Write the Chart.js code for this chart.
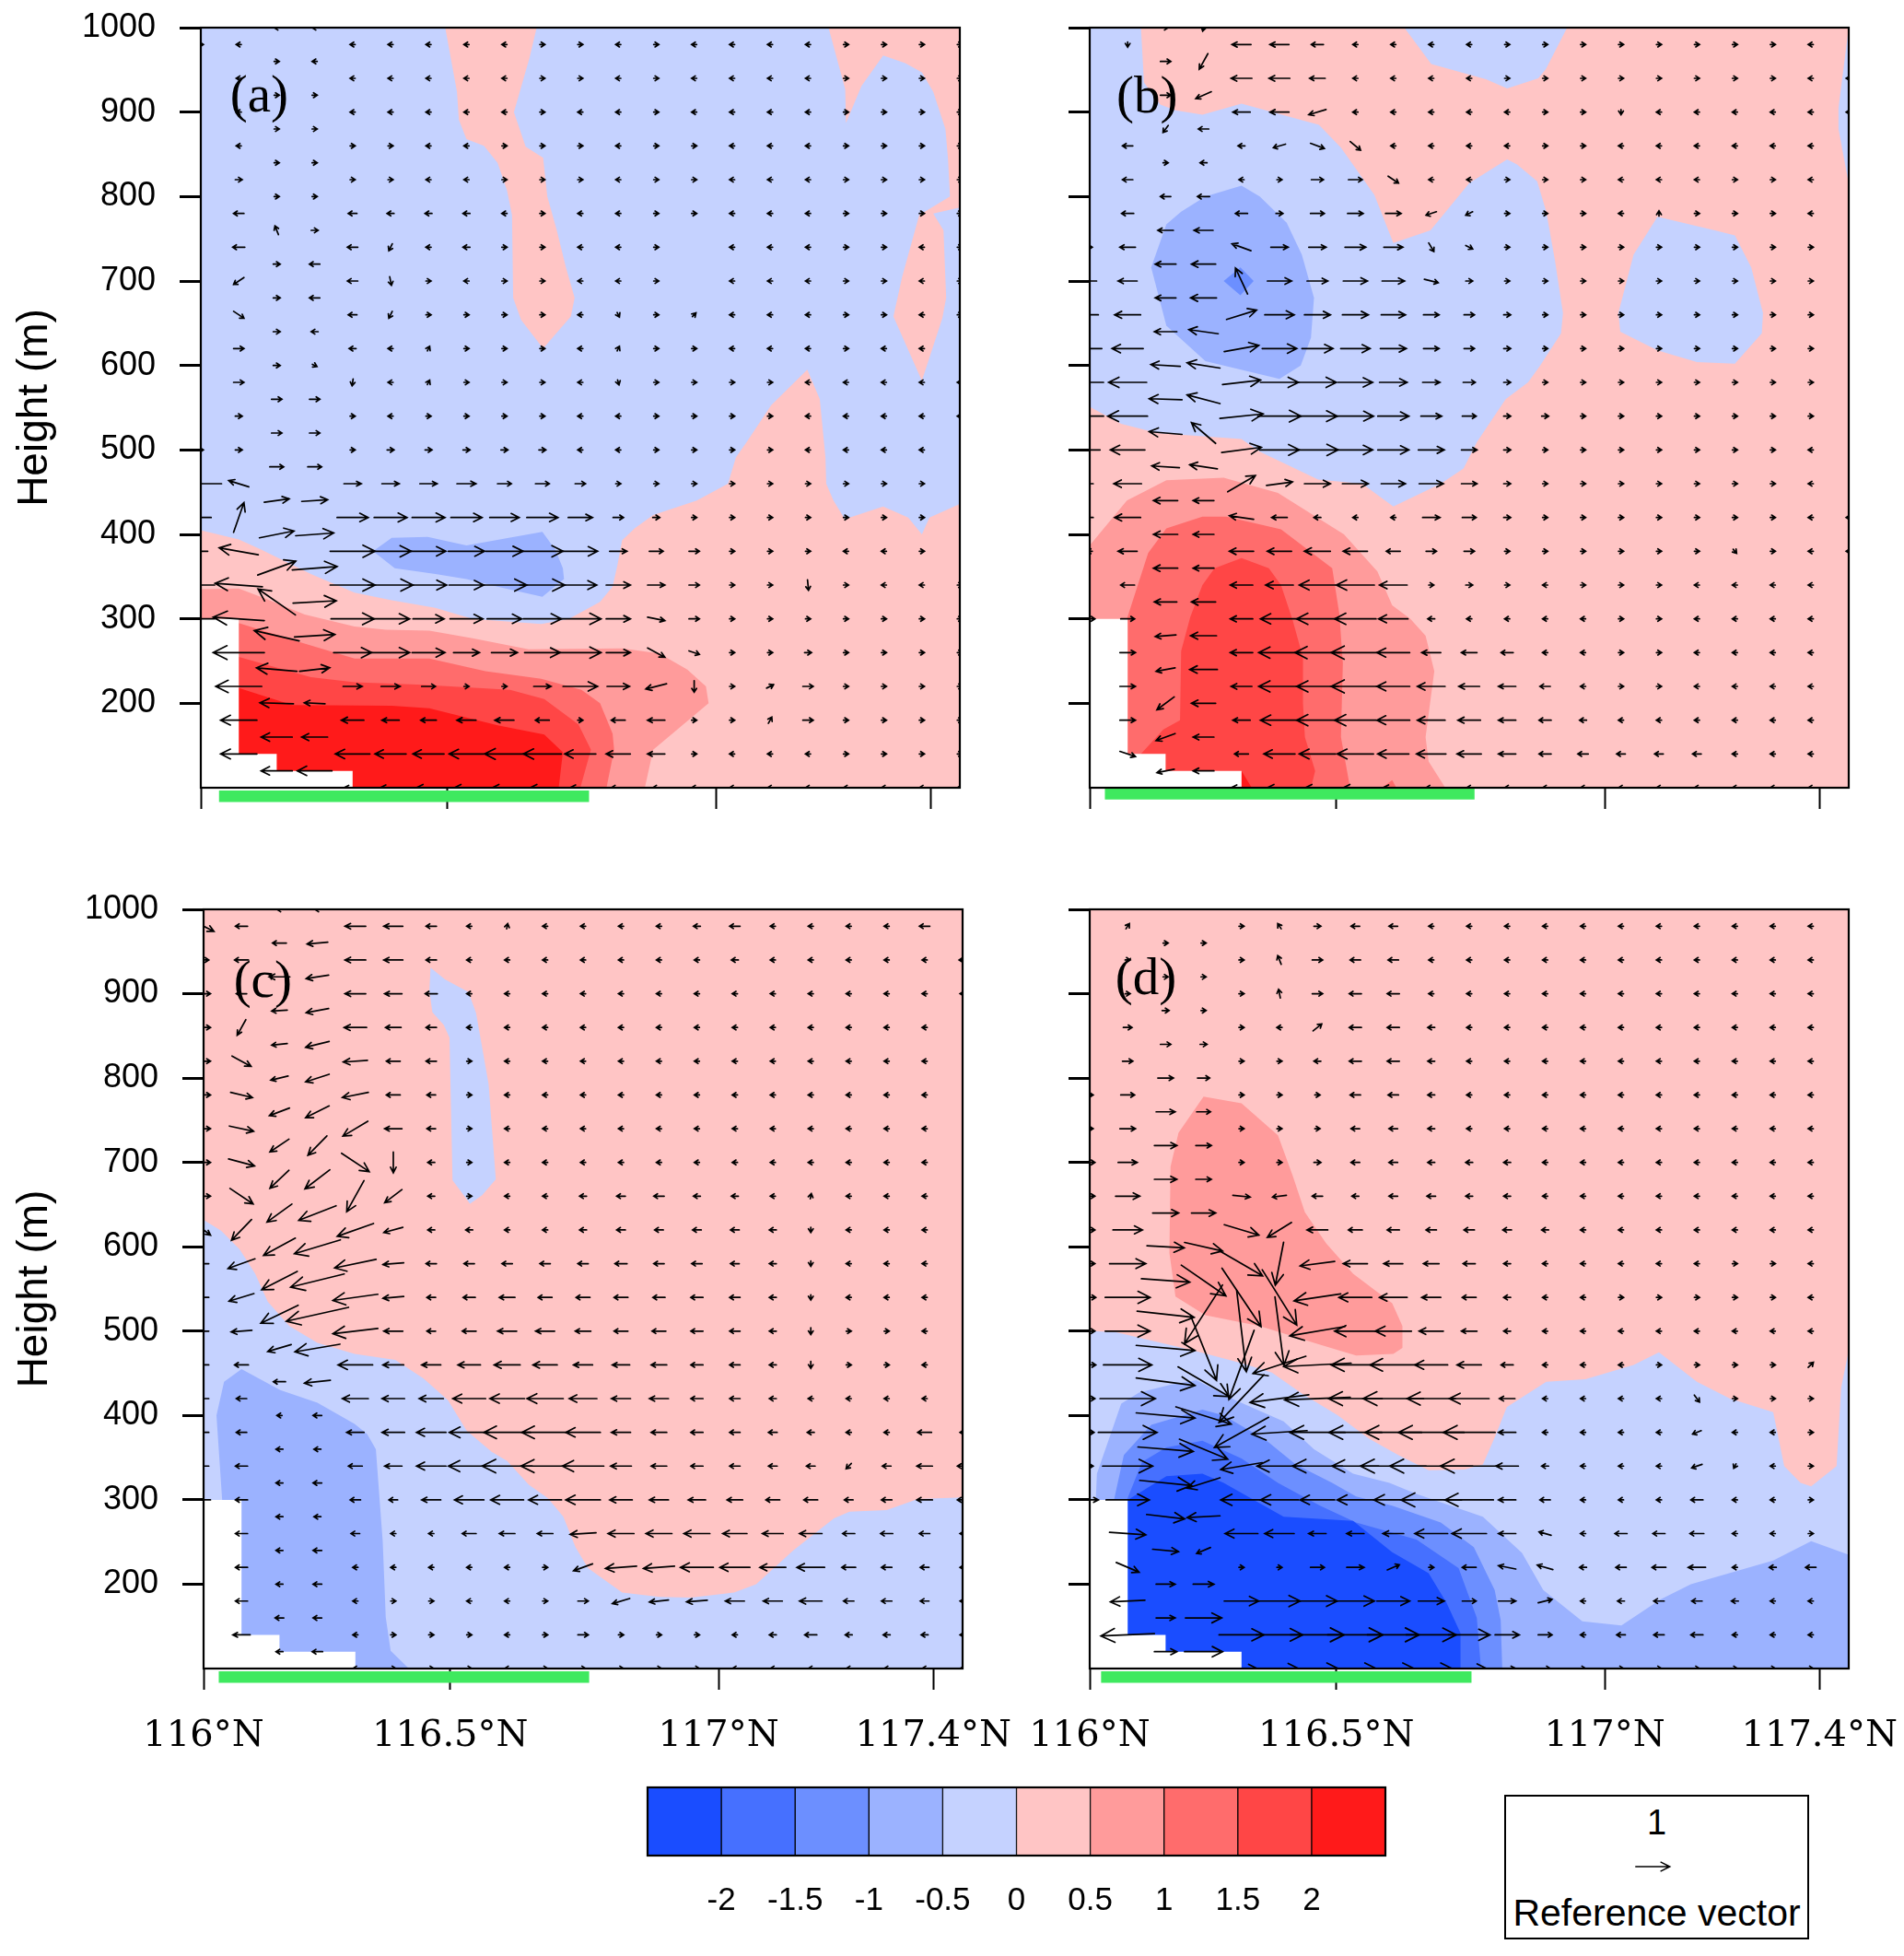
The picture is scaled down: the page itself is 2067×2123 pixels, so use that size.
<!DOCTYPE html>
<html>
<head>
<meta charset="utf-8">
<title>Height sections</title>
<script src="https://cdn.jsdelivr.net/npm/chart.js@4/dist/chart.umd.js"></script>
<style>
  html, body { margin: 0; padding: 0; background: #fff; }
  body { position: relative; width: 2067px; height: 2123px; overflow: hidden; }
  canvas { position: absolute; }
  #ref-box { position: absolute; left: 1633px; top: 1948px; width: 327px; height: 153px; border: 2px solid #000; font-family: "Liberation Sans", sans-serif; color: #000; text-align: center; }
  #ref-one { position: absolute; left: 0; right: 0; top: 6px; font-size: 38px; line-height: 44px; }
  #ref-name { position: absolute; left: -10px; right: -10px; top: 103px; font-size: 41px; line-height: 46px; white-space: nowrap; }
</style>
</head>
<body>
<canvas id="panel-a" width="1100" height="960" style="left:0;top:0"></canvas>
<canvas id="panel-b" width="967" height="960" style="left:1100px;top:0"></canvas>
<canvas id="panel-c" width="1100" height="960" style="left:0;top:960px"></canvas>
<canvas id="panel-d" width="967" height="960" style="left:1100px;top:960px"></canvas>
<canvas id="colorbar" width="890" height="170" style="left:660px;top:1930px"></canvas>
<div id="ref-box">
  <div id="ref-one">1</div>
  <div id="ref-name">Reference vector</div>
</div>
<canvas id="ref-arrow" width="60" height="20" style="left:1764px;top:2016px"></canvas>
<script>
// axis labels
const heightLabel = 'Height (m)';
const lonTicks = [0, 6.5, 13.57, 19.23];
const lonLabels = ['116°N', '116.5°N', '117°N', '117.4°N'];

// colour levels
const levelLabels = [-2, -1.5, -1, -0.5, 0, 0.5, 1, 1.5, 2];
const levelColors = ['#1a4dff', '#4670ff', '#6c8fff', '#9bb2ff', '#c5d2ff', '#ffc5c5', '#ff9b9b', '#ff6c6c', '#ff4646', '#ff1a1a'];

// grid of the vectors: cols 2,3 sit on staggered heights
const mainCols = [0, 1, 4, 5, 6, 7, 8, 9, 10, 11, 12, 13, 14, 15, 16, 17, 18, 19, 20];
const mainRows = [980, 940, 900, 860, 820, 780, 740, 700, 660, 620, 580, 540, 500, 460, 420, 380, 340, 300, 260, 220, 180, 140, 100];
const stagRows = [1000, 960, 920, 880, 840, 800, 760, 720, 680, 640, 600, 560, 520, 480, 440, 400, 360, 320, 280, 240, 200, 160, 120];

// terrain (no data)
const terrain = [0,100, 0,300, 1,300, 1,140, 2,140, 2,120, 4,120, 4,100];

// panel a: filled contours [level index, x,h, x,h ...]
const bandsA = [
  [4, [0,100, 0,1000, 20,1000, 20,100]],
  [5, [6.44,1000, 8.85,1000, 8.66,964, 8.25,900, 8.56,859, 9.02,846, 9.13,800, 9.38,760, 9.62,716, 9.85,680, 9.75,658, 9.02,620, 8.44,654, 8.23,680, 8.2,778, 8.07,807, 7.82,840, 7.46,860, 7,868, 6.8,891, 6.75,924]],
  [5, [16.54,1000, 20,1000, 20,787, 19.3,780, 19.57,760, 19.64,680, 19.54,656, 19,582, 18.25,658, 18.48,705, 18.93,778, 19,780, 19.74,800, 19.69,844, 19.62,880, 19.3,924, 19,947, 18.56,958, 17.98,967, 17.41,931, 17,887, 16.98,927]],
  [5, [15.98,595, 16.31,560, 16.46,491, 16.48,460, 16.67,440, 16.97,418, 17.98,433, 18.64,420, 19,400, 19.2,420, 20,436, 20,100, 0,100, 0,405, 1,394, 1.59,382, 2.9,353, 4.05,331, 5.03,322, 6.18,313, 7.16,300, 8.97,294, 9.7,300, 10.52,320, 10.85,338, 10.98,364, 11.1,393, 11.43,407, 11.92,423, 13.07,440, 13.89,460, 14.1,491, 14.38,509, 15.03,553]],
  [6, [0,335, 1,336, 1.75,323, 2.74,305, 4.05,291, 4.87,287, 6.02,286, 7.16,277, 8.64,264, 11.1,265, 12.08,259, 12.82,240, 13.31,220, 13.38,200, 11.92,145, 11.7,100, 0,100]],
  [7, [1,295, 2.57,273, 4.05,253, 6.02,253, 7.5,238, 8.97,229, 10.03,216, 10.52,200, 10.85,164, 10.89,145, 10.69,100, 1,100]],
  [8, [1,255, 2.9,231, 4.05,225, 5.85,222, 8.15,216, 9.05,205, 9.95,175, 10.28,145, 10,100, 1,100]],
  [9, [1,218, 2.41,198, 5.03,197, 6.02,194, 7.82,174, 9.05,163, 9.54,142, 9.43,100, 1,100]],
  [3, [4.54,380, 5.03,396, 5.98,397, 7,387, 9,403, 9.34,382, 9.54,360, 9.57,347, 9,326, 7.82,338, 7,347, 6.18,353, 5.11,360]]
];

// panel b
const bandsB = [
  [5, [0,100, 0,1000, 20,1000, 20,100]],
  [4, [0,1000, 1.35,1000, 1.43,935, 1.86,909, 2.26,902, 2.97,897, 4,910, 6.04,885, 6.62,858, 7.5,802, 8,745, 8.98,760, 10,816, 11,844, 11.26,838, 11.79,818, 12.03,782, 12.26,724, 12.47,662, 12.42,638, 11.87,600, 11.55,580, 10.96,560, 10.2,509, 9.85,478, 9.25,460, 8,433, 7.18,460, 6.02,465, 4.48,498, 4,513, 1.78,520, 0.83,531, 0,551]],
  [4, [8.29,1000, 9,957, 10.44,939, 11,928, 11.82,940, 12.02,951, 12.58,1000]],
  [4, [14.96,776, 16.47,760, 17,754, 17.43,716, 17.74,662, 17.71,638, 17,602, 16,604, 14.96,618, 13.98,640, 13.93,662, 14.33,731]],
  [4, [20,1000, 19.73,905, 19.73,880, 20,815]],
  [3, [4,813, 4.48,800, 5.19,769, 5.59,731, 5.91,680, 5.83,633, 5.56,600, 5,584, 3.05,605, 2.02,647, 1.62,716, 2.02,767, 2.41,782, 3.05,800]],
  [2, [3.97,716, 4.32,700, 3.97,683, 3.53,700]],
  [6, [0,387, 0.98,440, 2.02,464, 3.53,467, 4.96,449, 6.7,400, 7.58,356, 7.97,316, 8.45,300, 8.85,280, 9.08,238, 8.85,160, 8.93,131, 9.37,100, 0,100]],
  [7, [0.98,300, 1.54,378, 2.02,407, 2.97,421, 3.6,421, 5.04,406, 6.39,360, 6.58,305, 6.67,247, 6.62,160, 6.86,100, 0.98,100]],
  [7, [7.7,100, 7.97,109, 8.08,100]],
  [8, [4,372, 4.72,360, 5.04,340, 5.35,298, 5.62,254, 5.62,200, 5.67,160, 5.94,120, 5.83,100, 1.35,100, 1.35,140, 1.94,169, 2.38,180, 2.41,262, 2.65,302, 2.97,340, 3.29,360]],
  [9, [4,120, 4.27,100, 4,100]]
];

// panel c
const bandsC = [
  [5, [0,100, 0,1000, 20,1000, 20,100]],
  [4, [0,632, 0.46,619, 0.95,597, 1.36,568, 1.69,535, 2.26,506, 3,486, 3.98,473, 5.05,466, 5.79,444, 6.44,418, 6.93,382, 7.59,357, 8,346, 8.57,318, 9.07,302, 9.48,280, 9.8,244, 10.13,219, 11.03,190, 12.02,185, 12.84,184, 13.98,190, 14.56,200, 15.54,240, 16.61,278, 17.02,286, 18,288, 18.82,301, 20,303, 20,100, 0,100]],
  [4, [5.98,931, 6.36,917, 6.98,902, 7.18,877, 7.51,793, 7.7,680, 7.34,661, 7.02,651, 6.56,679, 6.48,848, 6.33,863, 6.03,878, 5.95,903]],
  [3, [1,455, 2.02,430, 3,415, 3.98,390, 4.31,378, 4.54,360, 4.72,251, 4.8,161, 4.93,121, 5.41,100, 0.49,100, 0.49,300, 0.34,400, 0.54,440]]
];

// panel d
const bandsD = [
  [5, [0,100, 0,1000, 20,1000, 20,100]],
  [6, [3,778, 4,770, 4.96,732, 5.35,684, 5.67,641, 6.23,604, 6.94,568, 7.97,533, 8.24,506, 8.24,480, 8,473, 7.02,471, 6.07,484, 4.48,506, 3.05,519, 2.26,541, 2.1,593, 2.13,695, 2.34,735]],
  [4, [0,500, 0.67,499, 2.73,477, 4,462, 4.8,451, 5.59,426, 6.54,400, 7.34,373, 8.13,353, 8.93,335, 9.88,336, 10.36,342, 10.68,375, 10.99,410, 12.03,440, 13.06,443, 14.33,460, 15,475, 16,440, 16.87,420, 18.01,404, 18.3,340, 18.73,320, 19.01,316, 19.68,340, 19.8,433, 20,477, 20,100, 0,100]],
  [3, [0.16,300, 0.19,331, 0.83,414, 1.3,427, 2.1,436, 2.81,442, 3.84,418, 5.11,393, 5.91,360, 6.94,331, 7.9,320, 8.61,307, 10.36,280, 11.39,237, 11.95,193, 12.98,156, 14.01,151, 15.04,182, 15.84,200, 18.01,228, 19.01,251, 20,235, 20,100, 0.16,100]],
  [2, [0.64,300, 0.9,353, 1.62,389, 2.97,407, 3.53,400, 4.64,371, 5.43,342, 6.39,320, 7.02,304, 7.97,293, 9.25,273, 10.12,244, 10.67,193, 10.83,157, 10.87,100, 0.64,100]],
  [1, [0.98,300, 1.38,345, 2.02,362, 2.97,370, 4,349, 4.96,320, 6.07,293, 7.02,273, 8.61,253, 9.72,219, 10.2,160, 10.31,100, 0.98,100]],
  [0, [1,300, 1.3,308, 2.02,328, 2.97,331, 3.53,320, 5.11,280, 6.94,275, 7.97,238, 8.93,213, 9.4,178, 9.77,142, 9.77,100, 1,100]]
];

// u on mainCols x mainRows, reference vector = 1
const uA = [
  [.1,-.1,-.1,-.1,-.1,-.1,-.1,.1,.1,-.1,.1,-.1,-.1,-.1,-.1,.1,.1,.1,.1],
  [0,-.1,-.1,-.1,-.1,-.1,-.1,.1,.1,-.1,.1,-.1,-.1,-.1,-.1,.1,.1,.1,.1],
  [0,-.1,-.1,-.1,-.1,-.1,-.1,.1,-.1,-.1,.1,-.1,-.1,-.1,-.1,.1,.1,.1,.1],
  [0,-.1,.1,.1,-.1,-.1,.1,.1,.1,-.1,.1,.1,-.1,-.1,-.1,.1,.1,.1,.1],
  [0,.2,.1,.1,-.1,-.1,.1,.1,.1,-.1,.1,.1,-.1,-.1,-.1,.1,.1,.1,.1],
  [0,-.3,-.25,-.2,-.2,-.2,-.15,.1,-.1,-.1,.1,.1,-.1,-.1,-.1,.1,.1,.1,.1],
  [0,-.35,-.3,-.1,-.15,-.2,.15,.1,-.1,-.1,.1,0,-.1,-.1,-.1,.1,.1,-.1,.1],
  [0,-.3,-.3,.05,.1,-.15,.15,.1,-.1,-.1,.1,0,-.1,-.1,-.1,.1,.1,-.1,.1],
  [0,.3,-.25,-.1,.1,.1,.1,.1,-.1,.05,.1,.1,-.1,-.1,-.1,.1,.1,-.1,.1],
  [0,.3,-.2,-.1,.05,.1,.1,.1,-.1,.05,.1,.1,-.1,-.1,-.1,.1,-.1,-.1,0],
  [0,.3,-.03,-.1,.05,.1,.1,.1,-.1,.03,.1,.1,.1,.1,-.1,-.1,-.1,-.1,-.1],
  [0,.2,.1,-.1,.1,.1,.1,.1,-.1,-.1,.1,.1,.1,.1,-.1,-.1,-.1,-.1,-.1],
  [.1,.2,.1,.2,.2,.2,.2,.2,-.1,-.1,.1,.1,.1,.1,-.1,-.1,-.1,-.1,0],
  [-1.2,-.58,.5,.5,.5,.55,.4,.4,.3,.1,.1,.1,.1,.1,.1,.1,.1,.1,0],
  [-.6,.3,.9,.95,.95,.9,.85,.9,.7,.3,.2,.1,.1,.1,.1,.1,.1,.1,0],
  [-.4,-1.13,1.3,1.2,1,1.05,1.08,1.2,1,.5,.4,.3,.1,.1,.1,-.1,-.1,.1,0],
  [-.8,-1.37,1.3,1.3,1.05,1,1.3,1.3,.95,.7,.5,.3,.1,.1,.03,.1,-.1,-.1,.1],
  [-.8,-1.48,1.25,1.1,.9,.95,1,1.1,1.2,.7,.5,.3,.1,.1,.1,.1,.1,.1,.1],
  [0,-1.48,1.1,1.1,.95,.75,.75,1.03,1.2,.7,.5,.3,.1,.1,.2,.1,.1,.1,.1],
  [0,-1.33,.55,.55,.4,.1,.1,.5,1,.65,-.6,0,.1,.2,.3,.1,.1,.1,.1],
  [0,-1.05,-.65,-.5,-.45,-.55,-.55,-.4,.1,-.4,-.5,.1,.1,.1,.3,.1,.1,.1,.1],
  [0,-1.05,-1,-.9,-.9,-1,-1.15,-1.1,-.9,-.7,-.5,.1,-.1,-.1,-.1,.1,.1,.1,.1],
  [0,0,-.5,-.6,-.7,-.7,-.7,-.7,-.6,-.4,-.2,-.1,-.1,-.1,-.1,-.1,-.1,-.1,-.1]
];
// v where it is not about zero: [height, col, v]
const vA = [[740,5,-.2],[700,1,-.2],[700,5,-.25],[660,1,-.2],[660,5,-.2],[660,11,-.1],[660,13,.1],[620,6,.1],[620,11,.1],[580,4,-.2],[580,6,.1],[580,11,-.1],[460,1,.18],[420,1,.86],[380,1,.2],[340,1,.1],[340,16,-.3],[300,1,.1],[300,12,-.1],[260,12,-.27],[260,13,-.1],[220,12,-.15],[220,13,-.33],[220,15,.1],[180,15,.18]];
// cols 2,3 on stagRows: [u2, v2, u3, v3]
const stagA = [
  [-.1,0,-.1,0],[.1,0,-.1,0],[.1,0,.1,0],[.1,0,.1,0],[.1,0,.1,0],[.1,0,.1,0],[-.1,.25,.2,0],[.2,0,-.3,0],[.2,0,-.3,0],[.2,0,-.2,0],[.2,0,.1,-.05],
  [.3,0,.3,0],[.3,0,.3,0],[.4,0,.4,0],[.72,.1,.75,.05],[1,.2,1.1,.08],[1.1,.4,1.3,.1],[-1.08,.75,1.25,.07],[-1.3,.3,1.17,.07],[-1.17,.1,.87,.1],[-.97,.03,-.6,.03],[-.9,0,-.75,0],[-.9,0,-1,0]
];

const uB = [
  [0,0,-.55,-.55,-.35,-.1,-.1,-.1,-.1,.1,.1,.1,.1,.1,.1,.1,.1,-.1,0],
  [0,0,-.6,-.6,-.45,-.1,-.1,-.1,-.1,.1,.1,.1,.1,.1,.1,.1,.1,-.1,-.1],
  [0,0,-.5,-.55,-.5,-.15,-.1,-.1,-.1,-.1,.1,.1,0,-.1,-.1,-.1,-.1,-.1,-.1],
  [0,-.3,-.2,-.35,.4,.3,-.1,-.1,-.1,-.1,.1,.1,-.1,-.1,-.1,-.1,-.1,-.1,0],
  [0,-.3,-.05,.1,.35,.4,.3,-.1,-.1,.1,.1,.1,-.1,-.1,-.1,.1,.1,-.1,0],
  [0,-.35,-.35,.2,.4,.45,.45,-.3,-.2,.1,.1,.1,-.05,0,.1,.1,.1,-.1,0],
  [.1,-.45,-.55,.5,.5,.6,.55,.15,.2,.1,.1,.1,.1,.1,.1,.1,.1,.1,0],
  [-.4,-.55,-.35,.7,.6,.7,.65,.4,.2,.1,.1,.1,.1,.1,.1,.1,.1,.1,0],
  [-.5,-.75,.87,.85,.75,.75,.7,.45,.3,.2,.1,.1,.1,.1,.1,.1,.1,.1,0],
  [-.7,-.9,1,1,.9,.85,.75,.45,.3,.2,.1,.1,.1,.1,.1,.1,.1,.1,0],
  [-.8,-1.1,1.1,1.1,1.1,1,.8,.5,.35,.2,.1,.1,.1,.1,.1,.1,.1,.1,0],
  [-.8,-1.15,1.25,1.25,1.15,1.05,.9,.6,.4,.2,.2,.1,.1,.1,.1,.1,.1,.1,0],
  [-.6,-1,1.15,1.15,1.2,1,.9,.75,.45,.2,.1,.1,.1,.1,.1,.1,.1,-.1,0],
  [-.2,-.8,.8,.75,.75,.75,.7,.7,.45,.2,.1,.1,.1,.1,.1,.1,.1,-.1,0],
  [-.2,-.75,-.7,-.45,-.2,-.1,-.1,.5,.4,.2,.1,.1,.1,.1,.1,.1,.1,-.1,-.1],
  [-.1,-.55,-.7,-.7,-.75,-.7,-.4,.3,.3,.15,.1,.1,.1,.1,.1,.1,.05,-.1,-.1],
  [0,-.4,-.65,-.8,-1.05,-1.1,-.8,.1,.2,.05,-.1,.1,.1,.1,-.1,-.1,-.1,-.1,0],
  [.3,.4,-.65,-1.1,-1.2,-1.2,-.85,-.2,-.15,-.1,-.1,-.1,.1,.1,-.1,-.1,-.1,-.1,0],
  [0,.45,-.65,-1.2,-1.3,-1.4,-.95,-.55,-.45,-.35,-.15,-.1,.1,.05,-.1,-.1,-.1,-.1,0],
  [0,.45,-.6,-1.2,-1.2,-1.4,-.95,-.8,-.6,-.5,-.3,-.15,.1,.05,-.1,-.1,-.1,-.1,0],
  [0,.45,-.5,-1.1,-1.2,-1.2,-.95,-.8,-.65,-.5,-.35,-.2,-.1,-.1,-.1,-.1,-.1,-.1,0],
  [0,.45,-.4,-.9,-1.05,-1.05,-.9,-.85,-.7,-.5,-.35,-.3,-.25,-.25,-.25,-.15,-.1,-.1,0],
  [0,0,-.6,-.7,-.7,-.7,-.6,-.3,-.1,-.1,-.1,-.1,-.1,-.1,-.1,-.1,-.1,-.1,0]
];
const vB = [[980,1,-.15],[900,6,-.15],[900,14,-.12],[860,5,-.1],[860,6,-.15],[860,7,-.25],[820,8,-.2],[780,9,-.1],[780,10,-.1],[780,15,.12],[740,4,.2],[740,9,-.25],[740,10,-.1],[700,4,.75],[700,9,-.1],[660,4,.27],[620,4,.18],[580,4,.13],[540,4,.13],[500,4,.15],[460,4,.47],[460,5,.1],[420,4,.1],[380,17,-.12],[140,1,-.15]];
const stagB = [
  [.1,0,-.05,-.2],[.3,0,-.25,-.45],[.3,0,-.45,-.2],[-.15,-.2,-.3,0],[.1,0,-.2,0],[-.3,0,-.35,0],[-.45,0,-.55,0],[-.6,0,-.7,0],[-.6,0,-.75,0],[-.65,0,-.85,.12],[-.85,.05,-.95,.15],
  [-.95,.03,-.95,.25],[-.95,.08,-.7,.6],[-.8,.05,-.8,.12],[-.7,0,-.6,0],[-.7,0,-.6,0],[-.7,0,-.6,0],[-.65,0,-.7,0],[-.6,-.05,-.75,0],[-.55,-.1,-.8,0],[-.5,-.37,-.7,0],[-.55,-.2,-.6,0],[-.5,-.1,-.6,0]
];

const uC = [
  [.6,-.35,-.6,-.55,-.3,-.1,.03,-.1,-.1,-.1,-.15,-.2,-.3,-.1,-.1,-.1,-.1,-.3,0],
  [.3,-.4,-.6,-.55,-.3,-.1,-.1,-.1,-.1,-.1,-.1,-.15,-.2,-.1,-.1,-.1,-.1,-.1,-.2],
  [.4,-.3,-.6,-.5,-.35,-.1,-.1,-.1,-.1,-.1,-.1,-.15,-.15,-.1,-.1,-.1,-.1,-.1,-.1],
  [.4,-.25,-.65,-.45,-.3,-.1,-.1,-.1,-.1,-.1,-.1,-.1,-.15,-.1,-.1,-.1,-.1,-.1,0],
  [.4,.55,-.7,-.4,-.3,.1,-.1,-.1,-.1,-.1,-.1,-.1,-.15,-.1,-.1,-.1,-.1,-.1,0],
  [.4,.63,-.75,-.4,-.25,.1,-.1,-.1,-.1,-.1,-.1,-.1,-.15,-.1,-.1,-.1,-.1,-.1,0],
  [.4,.7,-.72,-.5,-.25,.1,-.1,-.1,-.1,-.1,-.1,-.1,-.15,-.1,-.1,-.1,-.1,-.1,0],
  [.4,.75,.8,0,-.2,.1,-.1,-.1,-.1,-.1,-.1,-.1,-.15,-.1,-.1,-.1,-.1,-.1,0],
  [.4,.67,-.5,-.5,-.2,.1,-.1,-.1,-.2,-.25,-.3,-.2,-.2,-.1,.03,-.1,-.1,-.1,0],
  [.4,-.58,-1.05,-.55,-.2,-.2,-.15,-.15,-.2,-.25,-.25,-.25,-.25,-.2,0,-.1,-.1,-.1,0],
  [-.3,-.78,-1.2,-.6,-.3,-.3,-.3,-.3,-.3,-.35,-.3,-.3,-.25,-.2,0,-.1,-.1,-.1,0],
  [-.3,-.72,-1.3,-.6,-.25,-.35,-.45,-.4,-.4,-.4,-.35,-.35,-.3,-.2,0,-.1,-.1,-.1,0],
  [-.3,-.6,-1.3,-.55,-.25,-.4,-.55,-.55,-.45,-.4,-.4,-.35,-.3,-.2,0,.1,.1,-.1,0],
  [-.3,-.4,-1,-.6,-.55,-.65,-.75,-.7,-.55,-.5,-.45,-.35,-.3,-.2,0,.1,.1,-.1,0],
  [-.3,-.3,-.75,-.65,-.7,-.95,-1,-1.05,-.8,-.55,-.55,-.35,-.3,-.2,-.15,-.1,-.1,-.1,0],
  [-.3,-.3,-.5,-.65,-.85,-1.15,-1.35,-1.35,-1,-.55,-.45,-.35,-.3,-.25,-.2,-.15,-.15,-.4,-.1],
  [-.3,-.35,-.4,-.5,-.85,-1.2,-1.45,-1.4,-1.2,-.6,-.45,-.35,-.3,-.25,-.25,-.15,-.25,-.45,-.3],
  [-.4,-.35,-.3,-.25,-.55,-.85,-.95,-.95,-1,-.65,-.55,-.5,-.45,-.4,-.4,-.25,-.3,-.45,-.3],
  [0,-.35,-.25,-.1,-.15,-.4,-.45,-.45,-.75,-.75,-.75,-.75,-.7,-.6,-.65,-.35,-.35,-.3,-.15],
  [0,-.35,-.15,-.1,-.1,-.1,-.1,.1,-.55,-.9,-.9,-.95,-.87,-.75,-.8,-.4,-.3,-.25,-.1],
  [0,-.35,-.15,.1,.1,-.1,-.1,.1,.3,-.5,-.55,-.6,-.55,-.55,-.65,-.3,-.3,-.25,-.1],
  [0,-.5,-.1,.1,.1,.1,-.1,.1,.3,.15,.1,.1,-.1,-.2,-.35,-.2,-.2,-.2,-.1],
  [0,0,-.1,.1,.1,.1,-.1,.1,.1,.1,.1,.1,-.1,-.1,-.1,-.1,-.1,-.1,-.1]
];
const vC = [[980,0,-.3],[980,8,.15],[860,1,-.45],[820,1,-.3],[820,4,-.05],[780,1,-.15],[780,4,-.15],[740,1,-.15],[740,4,-.43],[700,1,-.2],[700,4,-.53],[700,5,-.6],[660,1,-.45],[660,4,-.9],[660,5,-.38],[660,16,.15],[620,0,-.3],[620,1,-.6],[620,4,-.37],[620,5,-.15],[620,16,-.15],[580,1,-.28],[580,4,-.25],[580,5,-.05],[580,16,-.15],[540,1,-.22],[540,4,-.18],[540,5,-.05],[540,16,-.15],[500,1,-.05],[500,4,-.15],[500,16,-.2],[460,16,-.2],[340,17,-.15],[260,10,-.05],[220,10,-.2],[220,11,-.07],[220,12,-.07],[180,11,-.15],[180,12,-.06],[180,13,-.05]];
const stagC = [
  [-.1,0,-.1,0],[-.4,0,-.6,-.05],[-.6,0,-.65,-.1],[-.45,-.03,-.65,-.12],[-.45,-.05,-.68,-.17],[-.5,-.12,-.68,-.22],[-.58,-.22,-.68,-.34],[-.55,-.37,-.55,-.56],[-.55,-.52,-.72,-.55],[-.72,-.52,-1.08,-.42],[-.92,-.5,-1.33,-.4],
  [-1.03,-.53,-1.55,-.38],[-1.08,-.52,-1.8,-.4],[-.68,-.2,-1.3,-.22],[-.35,0,-.75,-.08],[-.1,0,-.25,0],[-.2,0,-.2,0],[-.2,0,-.25,0],[-.2,0,-.2,0],[-.2,0,-.25,0],[-.2,0,-.25,0],[-.25,0,-.25,0],[-.2,0,-.3,0]
];

const uD = [
  [0,.1,.1,-.1,.2,-.25,-.25,-.1,-.1,-.1,-.1,-.1,-.1,-.1,-.1,-.1,-.1,-.1,0],
  [0,.1,.1,-.1,.3,-.3,-.3,-.1,-.1,-.1,-.1,-.1,-.1,-.1,-.1,-.1,-.1,-.1,0],
  [0,.1,.15,-.05,.3,-.35,-.35,-.1,-.1,-.1,-.1,-.1,-.1,-.1,-.1,-.1,-.1,-.1,0],
  [0,.25,.1,-.15,.25,-.35,-.35,-.2,-.1,-.1,-.1,-.1,-.1,-.1,-.1,-.1,-.1,-.1,0],
  [0,.3,.1,.1,-.2,-.35,-.35,-.2,-.1,-.1,-.1,-.1,-.1,-.1,-.1,-.1,-.1,-.1,0],
  [.2,.4,.1,.1,.15,-.3,-.3,-.2,-.1,-.1,-.1,-.1,-.1,-.1,-.1,-.1,-.1,-.1,0],
  [.2,.45,.1,.1,.15,-.25,-.25,-.2,-.15,-.1,-.1,-.1,-.1,-.1,-.1,-.1,-.1,-.1,0],
  [.3,.55,.1,.1,.2,-.25,-.25,-.2,-.2,-.2,-.1,-.1,-.1,-.1,-.1,-.1,-.1,-.1,0],
  [.3,.7,.5,-.4,-.3,-.2,-.25,-.25,-.2,-.2,-.1,-.1,-.1,-.1,-.1,-.1,-.1,-.1,0],
  [.3,.85,1,-.7,-.6,-.4,-.35,-.3,-.3,-.25,-.2,-.15,-.1,-.1,-.1,-.1,-.1,-.1,0],
  [.3,1.05,1.22,-.24,-1,-.7,-.55,-.45,-.35,-.2,-.15,-.1,-.1,-.1,-.1,.1,.1,-.1,0],
  [.35,1.3,1.13,1,-1.35,-.95,-.8,-.55,-.4,-.2,-.1,-.1,.1,.1,.1,.1,.1,-.1,0],
  [.3,1.3,.28,.26,-1.6,-1.2,-1.05,-.7,-.45,-.2,-.1,-.1,-.1,-.1,-.1,-.1,-.1,-.1,0],
  [.35,1.4,-.73,-1.53,-1.95,-1.4,-1.35,-.95,-.7,-.35,-.1,-.1,-.1,.1,.1,.1,.1,.15,0],
  [.3,1.6,-1.3,-1.7,-1.9,-1.55,-1.75,-1.4,-1.15,-.45,-.1,-.1,-.1,-.1,.15,.1,.1,.1,0],
  [.25,1.7,-1.57,-1.6,-1.6,-1.53,-1.64,-1.9,-1.5,-.5,-.15,-.1,-.1,-.1,-.25,-.1,-.1,.1,0],
  [.2,1.45,-1.2,-1.3,-1.45,-1.35,-1.9,-2.4,-1.67,-.65,-.2,-.1,-.1,-.1,-.3,-.05,-.1,.1,0],
  [.5,1.25,-1.2,-1.1,-1,-1.05,-1.13,-1.75,-1.4,-.5,-.3,-.1,-.1,-.1,-.35,-.1,-.1,.1,0],
  [0,1.05,-.95,-.85,-.5,-.5,-.6,-.95,-1,-.5,-.35,-.15,-.35,-.35,-.4,-.1,-.1,.1,0],
  [0,.66,.1,.1,.4,.5,.35,.1,-.4,-.5,-.45,-.2,-.3,-.4,-.5,-.1,-.2,-.3,0],
  [0,-1,1,1.2,1.15,1.1,.95,.75,.4,.5,.4,-.1,-.2,-.3,-.3,-.2,-.1,-.15,0],
  [0,-1.55,1.3,1.35,1.55,1.6,1.5,1.45,1.2,.7,.4,-.15,-.25,-.3,-.35,-.1,-.1,-.1,0],
  [0,0,.9,1.1,1.2,1.2,1.2,1.2,1,.5,.3,.1,.1,.1,.1,.1,.1,.1,0]
];
const vD = [[980,1,.15],[980,5,.15],[940,5,.25],[900,5,.25],[860,6,.2],[660,4,-.05],[660,5,-.05],[620,4,-.3],[620,5,-.43],[580,4,-.71],[580,5,-1.24],[580,6,-.13],[540,4,-1.69],[540,5,-1.6],[540,6,-.2],[500,4,-2.35],[500,5,-1.98],[500,6,-.27],[460,4,-2],[460,5,-.5],[460,6,-.1],[460,19,.15],[420,4,-1.38],[420,5,-.22],[420,6,-.07],[420,16,-.2],[380,4,-.87],[380,5,-.1],[380,16,-.1],[340,4,-.2],[340,16,-.1],[340,17,-.1],[260,1,-.07],[260,12,.1],[220,1,-.28],[220,8,.15],[220,11,.1],[220,12,.13],[180,1,-.05],[180,12,.1],[140,1,-.07]];
const stagD = [
  [0,0,0,0],[.1,0,.1,0],[.1,0,.1,0],[.2,0,.1,0],[.3,0,.2,0],[.45,0,.35,0],[.55,0,.4,0],[.65,0,.45,0],[.65,0,.45,0],[.75,0,.7,0],[1.08,-.06,1.1,-.25],
  [1.4,-.1,1.29,-.89],[1.65,-.18,-1.1,-1.7],[1.7,-.15,.75,-1.87],[1.7,-.22,1.48,-.86],[1.7,-.15,1.6,-.5],[1.6,-.13,1.4,-.58],[1.5,-.15,-.95,-.3],[1.1,-.13,-.95,-.05],[.75,-.07,-.4,-.17],[.55,0,.6,0],[.55,0,1.05,0],[.65,0,1.1,0]
];

// reference vector
const refU = [1];
const refV = [0];

// length in pixels of a vector of size 1
const VEC_PX = 37.5;
const VEC_MIN_PX = 5.5;

function toPoints(flat) {
  let points = [];
  for (let i = 0; i < flat.length; i += 2) {
    points.push({x: flat[i], y: flat[i + 1]});
  }
  return points;
}

function buildVectors(uRows, vList, stag) {
  let list = [];
  mainRows.forEach((h, r) => {
    mainCols.forEach((col, c) => {
      let extra = vList.find(e => e[0] === h && e[1] === col);
      list.push({x: col, y: h, u: uRows[r][c], v: extra ? extra[2] : 0});
    });
  });
  stagRows.forEach((h, r) => {
    list.push({x: 2, y: h, u: stag[r][0], v: stag[r][1]});
    list.push({x: 3, y: h, u: stag[r][2], v: stag[r][3]});
  });
  return list;
}

function drawArrow(ctx, px, py, u, v) {
  let mag = Math.hypot(u, v);
  if (mag === 0) return;
  let len = Math.max(mag * VEC_PX, VEC_MIN_PX);
  let dx = u / mag, dy = -v / mag;
  let x0 = px - dx * len / 2, y0 = py - dy * len / 2;
  let x1 = px + dx * len / 2, y1 = py + dy * len / 2;
  let head = Math.min(Math.max(len * 0.27, 4), 15);
  let side = Math.max(head * 0.5, 2.6);
  ctx.beginPath();
  ctx.moveTo(x0, y0);
  ctx.lineTo(x1, y1);
  ctx.moveTo(x1 - dx * head - dy * side, y1 - dy * head + dx * side);
  ctx.lineTo(x1, y1);
  ctx.lineTo(x1 - dx * head + dy * side, y1 - dy * head - dx * side);
  ctx.stroke();
}

// vectors, panel letter and frame go on top of the datasets
const panelPlugin = {
  id: 'panelPlugin',
  afterDatasetsDraw(chart, args, opts) {
    const ctx = chart.ctx;
    const area = chart.chartArea;
    const xs = chart.scales.x, ys = chart.scales.y;
    ctx.save();
    ctx.beginPath();
    ctx.rect(area.left, area.top, area.right - area.left, area.bottom - area.top);
    ctx.clip();
    ctx.strokeStyle = '#000';
    ctx.lineWidth = 1.7;
    ctx.lineCap = 'round';
    (opts.vectors || []).forEach(p => {
      drawArrow(ctx, xs.getPixelForValue(p.x), ys.getPixelForValue(p.y), p.u, p.v);
    });
    ctx.restore();

    ctx.save();
    ctx.strokeStyle = '#000';
    ctx.lineWidth = 2.2;
    ctx.strokeRect(area.left, area.top, area.right - area.left, area.bottom - area.top);
    ctx.restore();

    if (opts.letter) {
      ctx.save();
      ctx.fillStyle = '#000';
      ctx.font = '57px "Liberation Serif", serif';
      ctx.textAlign = 'center';
      ctx.textBaseline = 'middle';
      ctx.fillText(opts.letter, xs.getPixelForValue(opts.letterAt[0]), ys.getPixelForValue(opts.letterAt[1]));
      ctx.restore();
    }
  }
};

// labels may hang over the plot area, do not let them shrink it
function noOverhang(s) {
  s.paddingLeft = 0;
  s.paddingRight = 0;
  s.paddingTop = 0;
  s.paddingBottom = 0;
}

function makePanel(id, cfg) {
  let datasets = cfg.bands.map(b => ({
    data: toPoints(b[1]),
    showLine: true,
    fill: 'shape',
    backgroundColor: levelColors[b[0]],
    borderWidth: 0,
    pointRadius: 0,
    tension: 0
  }));
  datasets.push({
    data: toPoints(terrain),
    showLine: true,
    fill: 'shape',
    backgroundColor: '#ffffff',
    borderWidth: 0,
    pointRadius: 0,
    tension: 0
  });
  // green bar under the axis
  datasets.push({
    data: [{x: cfg.barX[0], y: cfg.barY}, {x: cfg.barX[1], y: cfg.barY}],
    showLine: true,
    fill: false,
    borderColor: '#3fe95f',
    borderWidth: 12.5,
    borderCapStyle: 'butt',
    pointRadius: 0,
    clip: false
  });
  datasets.forEach((d, i) => { d.order = -i; });

  return new Chart(document.getElementById(id), {
    type: 'scatter',
    data: {datasets: datasets},
    plugins: [panelPlugin],
    options: {
      responsive: false,
      animation: false,
      layout: {padding: {top: cfg.top, right: cfg.right, left: 0, bottom: 0}},
      plugins: {
        legend: {display: false},
        tooltip: {enabled: false},
        panelPlugin: {vectors: buildVectors(cfg.u, cfg.v, cfg.stag), letter: cfg.letter, letterAt: cfg.letterAt}
      },
      scales: {
        x: {
          type: 'linear',
          min: 0,
          max: 20,
          afterBuildTicks: s => { s.ticks = lonTicks.map(v => ({value: v})); },
          afterFit: s => { s.height = cfg.xHeight; noOverhang(s); },
          grid: {drawOnChartArea: false, drawTicks: true, tickLength: 23, tickWidth: 2, tickColor: '#000'},
          border: {display: false},
          ticks: {
            display: cfg.showLon,
            autoSkip: false,
            maxRotation: 0,
            padding: 27,
            color: '#000',
            font: {family: '"DejaVu Serif", serif', size: 40},
            callback: v => lonLabels[lonTicks.indexOf(v)]
          }
        },
        y: {
          type: 'linear',
          min: 100,
          max: 1000,
          afterBuildTicks: s => { s.ticks = s.ticks.filter(t => t.value > 100); },
          afterFit: s => { s.width = cfg.yWidth; noOverhang(s); },
          title: {
            display: cfg.showHeight,
            text: heightLabel,
            color: '#000',
            font: {family: '"Liberation Sans", sans-serif', size: 46},
            padding: {top: 11, bottom: 0}
          },
          grid: {drawOnChartArea: false, drawTicks: true, tickLength: 23, tickWidth: 3, tickColor: '#000'},
          border: {display: false},
          ticks: {
            display: cfg.showHeight,
            stepSize: 100,
            padding: 26,
            color: '#000',
            font: {family: '"Liberation Sans", sans-serif', size: 36},
            callback: v => String(v)
          }
        }
      }
    }
  });
}

makePanel('panel-a', {bands: bandsA, u: uA, v: vA, stag: stagA, letter: '(a)', letterAt: [1.54, 917], top: 30, right: 58, yWidth: 218, xHeight: 105, barX: [0.48, 10.23], barY: 90, showLon: false, showHeight: true});
makePanel('panel-b', {bands: bandsB, u: uB, v: vB, stag: stagB, letter: '(b)', letterAt: [1.51, 916], top: 30, right: 60, yWidth: 83, xHeight: 105, barX: [0.4, 10.14], barY: 93, showLon: false, showHeight: false});
makePanel('panel-c', {bands: bandsC, u: uC, v: vC, stag: stagC, letter: '(c)', letterAt: [1.56, 913], top: 27, right: 55, yWidth: 221, xHeight: 109, barX: [0.4, 10.16], barY: 90, showLon: true, showHeight: true});
makePanel('panel-d', {bands: bandsD, u: uD, v: vD, stag: stagD, letter: '(d)', letterAt: [1.48, 916], top: 27, right: 60, yWidth: 83, xHeight: 109, barX: [0.3, 10.06], barY: 90, showLon: true, showHeight: false});

// colour bar, one floating bar for each level
const barEdges = [-2.5].concat(levelLabels, [2.5]);
new Chart(document.getElementById('colorbar'), {
  type: 'bar',
  data: {
    labels: ['level'],
    datasets: levelColors.map((c, i) => ({
      data: [[barEdges[i], barEdges[i + 1]]],
      backgroundColor: c,
      borderColor: '#000',
      borderWidth: 1,
      borderSkipped: false,
      barPercentage: 1,
      categoryPercentage: 1,
      grouped: false
    }))
  },
  plugins: [panelPlugin],
  options: {
    indexAxis: 'y',
    responsive: false,
    animation: false,
    layout: {padding: {left: 43, right: 46, top: 10, bottom: 0}},
    plugins: {legend: {display: false}, tooltip: {enabled: false}, panelPlugin: {}},
    scales: {
      x: {
        type: 'linear',
        min: -2.5,
        max: 2.5,
        afterBuildTicks: s => { s.ticks = levelLabels.map(v => ({value: v})); },
        afterFit: s => { s.height = 86; noOverhang(s); },
        grid: {display: false},
        border: {display: false},
        ticks: {
          autoSkip: false,
          maxRotation: 0,
          padding: 20,
          color: '#000',
          font: {family: '"Liberation Sans", sans-serif', size: 35},
          callback: v => String(v)
        }
      },
      y: {display: false}
    }
  }
});

// arrow of the reference box
new Chart(document.getElementById('ref-arrow'), {
  type: 'scatter',
  data: {datasets: [{data: [{x: 0, y: 0}], pointRadius: 0}]},
  plugins: [{
    id: 'refArrow',
    afterDatasetsDraw(chart) {
      const ctx = chart.ctx;
      ctx.save();
      ctx.strokeStyle = '#000';
      ctx.lineWidth = 1.5;
      drawArrow(ctx, chart.scales.x.getPixelForValue(0), chart.scales.y.getPixelForValue(0), refU[0], refV[0]);
      ctx.restore();
    }
  }],
  options: {
    responsive: false,
    animation: false,
    plugins: {legend: {display: false}, tooltip: {enabled: false}},
    scales: {
      x: {display: false, min: -1, max: 1},
      y: {display: false, min: -1, max: 1}
    }
  }
});
</script>
</body>
</html>
